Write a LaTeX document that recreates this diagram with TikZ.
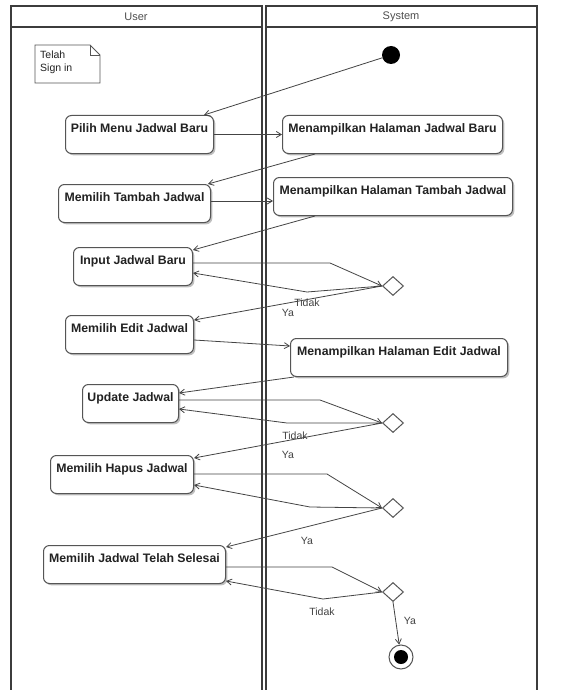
\documentclass[tikz,border=0pt]{standalone}
\usepackage{fontspec}
\setmainfont{Liberation Sans}
\usetikzlibrary{shapes.geometric,arrows.meta,shadows,calc}
\definecolor{lanec}{HTML}{3C3C3C}
\definecolor{boxc}{HTML}{555555}
\definecolor{arrc}{HTML}{444444}
\definecolor{txtc}{HTML}{222222}
\begin{document}
\begin{tikzpicture}[x=1pt,y=-1pt,
  lane/.style={draw=lanec,line width=1.6pt},
  hdr/.style={font=\fontsize{11}{13}\selectfont,text=txtc!80,inner sep=0pt},
  act/.style={draw=boxc,fill=white,rounded corners=6pt,line width=1pt,
    font=\bfseries\fontsize{12.3}{14}\selectfont,text=txtc,anchor=north west,
    inner xsep=0pt,inner ysep=8pt,text height=9pt,text depth=13pt,
    drop shadow={shadow xshift=1.8pt,shadow yshift=-1.8pt,fill=black!55,opacity=0.45}},
  dec/.style={diamond,draw=boxc,fill=white,line width=1pt,minimum width=21pt,minimum height=19pt,inner sep=0pt},
  flow/.style={draw=arrc,line width=0.8pt,-{Straight Barb[length=5pt,width=6pt]}},
  lbl/.style={font=\fontsize{10.5}{12}\selectfont,text=txtc!85,inner sep=0pt}
]
\useasboundingbox (0,0) rectangle (568,690);
\fill[white] (0,0) rectangle (568,690);

% swimlanes
\draw[lane] (11,6) rectangle (262,696);
\draw[lane] (11,27) -- (262,27);
\draw[lane] (266,6) rectangle (537,696);
\draw[lane] (266,27) -- (537,27);
\node[hdr] (huser) at (136,17) {User};
\node[hdr] (hsys) at (401,17) {System};

% note
\node[anchor=north west,align=left,inner sep=0pt,font=\fontsize{10.5}{12.5}\selectfont,text=txtc] (note) at (40,51) {Telah\\Sign in};
\draw[draw=boxc,line width=0.8pt] (35,45) -- (90,45) -- (100,55) -- (100,83) -- (35,83) -- cycle;
\draw[draw=boxc,line width=0.8pt] (90,45) -- (90,55) -- (100,55);

% start / end
\node[circle,fill=black,minimum size=18pt,inner sep=0pt] (start) at (391,55) {};
\node[circle,draw=boxc,fill=white,line width=1pt,minimum size=24pt,inner sep=0pt] (end) at (401,657) {};
\node[circle,fill=black,minimum size=14pt,inner sep=0pt] (endin) at (401,657) {};

% activities
\node[act,minimum width=148pt] (b1) at (65,115) {Pilih Menu Jadwal Baru};
\node[act,minimum width=220pt] (b2) at (282,115) {Menampilkan Halaman Jadwal Baru};
\node[act,minimum width=152pt] (b3) at (58,184) {Memilih Tambah Jadwal};
\node[act,minimum width=239pt] (b4) at (273,177) {Menampilkan Halaman Tambah Jadwal};
\node[act,minimum width=119pt] (b5) at (73,247) {Input Jadwal Baru};
\node[act,minimum width=128pt] (b6) at (65,315) {Memilih Edit Jadwal};
\node[act,minimum width=217pt] (b7) at (290,338) {Menampilkan Halaman Edit Jadwal};
\node[act,minimum width=96pt] (b8) at (82,384) {Update Jadwal};
\node[act,minimum width=143pt] (b9) at (50,455) {Memilih Hapus Jadwal};
\node[act,minimum width=182pt] (b10) at (43,545) {Memilih Jadwal Telah Selesai};

% decisions
\node[dec] (d1) at (393,286) {};
\node[dec] (d2) at (393,423) {};
\node[dec] (d3) at (393,508) {};
\node[dec] (d4) at (393,592) {};

% bend points
\coordinate (p1) at (330,263);
\coordinate (q1) at (307,292);
\coordinate (p2) at (320,400);
\coordinate (q2) at (287,423);
\coordinate (p3) at (327,474);
\coordinate (q3) at (310,507);
\coordinate (p4) at (332,567);
\coordinate (q4) at (323,599);

% connectors
\draw[flow] (start) -- ([xshift=-10pt]b1.north east);
\draw[flow] (b1.east) -- (b2.west);
\draw[flow] ([xshift=33pt]b2.south west) -- ([xshift=-3pt]b3.north east);
\draw[flow] ([yshift=-17pt]b3.north east) -- ([yshift=-17pt]b3.north east -| b4.west);
\draw[flow] ([xshift=42pt]b4.south west) -- ([yshift=-3pt]b5.north east);
\draw[flow] ([yshift=-16pt]b5.north east) -- (p1) -- (d1.west);
\draw[flow] (d1.west) -- (q1) -- ([yshift=-26pt]b5.north east);
\draw[flow] (d1.west) -- ([yshift=-5pt]b6.north east);
\draw[flow] ([yshift=-25pt]b6.north east) -- ([yshift=-8pt]b7.north west);
\draw[flow] ([xshift=4pt]b7.south west) -- ([yshift=-9pt]b8.north east);
\draw[flow] ([yshift=-16pt]b8.north east) -- (p2) -- (d2.west);
\draw[flow] (d2.west) -- (q2) -- ([yshift=-25pt]b8.north east);
\draw[flow] (d2.west) -- ([yshift=-3pt]b9.north east);
\draw[flow] ([yshift=-19pt]b9.north east) -- (p3) -- (d3.west);
\draw[flow] (d3.west) -- (q3) -- ([yshift=-30pt]b9.north east);
\draw[flow] (d3.west) -- ([yshift=-2pt]b10.north east);
\draw[flow] ([yshift=-22pt]b10.north east) -- (p4) -- (d4.west);
\draw[flow] (d4.west) -- (q4) -- ([yshift=-36pt]b10.north east);
\draw[flow] (d4.south) -- (end);

% guard labels
\node[lbl] (t1) at (307,303) {Tidak};
\node[lbl] (y1) at (288,313) {Ya};
\node[lbl] (t2) at (295,436) {Tidak};
\node[lbl] (y2) at (288,455) {Ya};
\node[lbl] (y3) at (307,541) {Ya};
\node[lbl] (t4) at (322,612) {Tidak};
\node[lbl] (y4) at (410,621) {Ya};
\end{tikzpicture}
\end{document}
